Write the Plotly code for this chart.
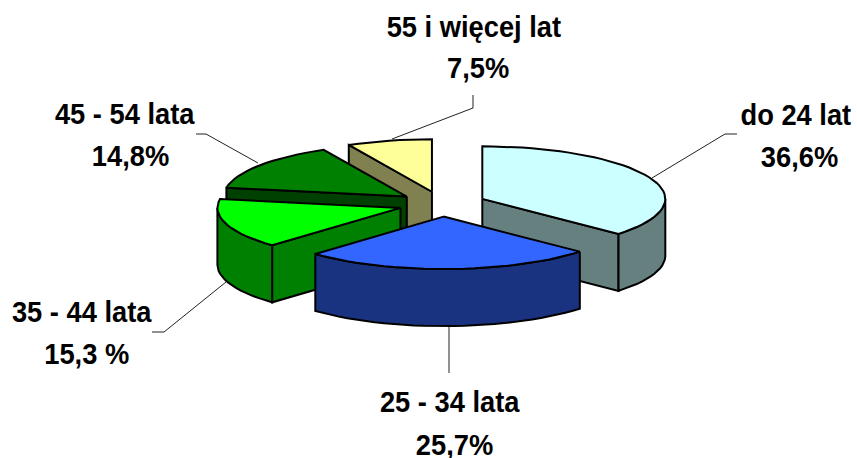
import numpy as np
import plotly.graph_objects as go

categories = ["do 24 lat", "25 - 34 lata", "35 - 44 lata", "45 - 54 lata", "55 i więcej lat"]
values = [36.6, 25.7, 15.3, 14.8, 7.5]
value_labels = ["36,6%", "25,7%", "15,3 %", "14,8%", "7,5%"]
top_colors = ["#CCFFFF", "#3366FF", "#00FF00", "#008000", "#FFFF99"]
side_colors = ["#668080", "#1A3380", "#008000", "#004000", "#808050"]
draw_order = [4, 3, 2, 0, 1]
name_xy = [(795.5, 114), (450, 401), (81.5, 311), (125, 113.5), (474, 26)]
value_xy = [(799, 156), (454, 444), (86.5, 353), (130, 155), (478, 67)]
leaders = [
    [(652, 178), (725, 134), (737, 134)],
    [(449, 327), (449, 373)],
    [(226, 282), (164, 332), (152, 332)],
    [(258, 163), (206, 134), (196, 134)],
    [(392, 139), (473, 108), (473, 95)],
]

CX, CY, RX, RY, DEPTH, PULL = 442.2, 204.0, 183.0, 52.5, 57.0, 0.24

total = sum(values)
edges = np.concatenate([[0.0], np.cumsum(values)]) / total * 2 * np.pi


def arc(i):
    n = max(int(values[i] * 1.2), 6)
    t = np.linspace(edges[i], edges[i + 1], n)
    extra = [a for a in (np.pi / 2, 3 * np.pi / 2) if edges[i] < a < edges[i + 1]]
    return np.union1d(t, extra)


def apex(i):
    mid = (edges[i] + edges[i + 1]) / 2
    return CX + PULL * RX * np.sin(mid), CY - PULL * RY * np.cos(mid)


def poly(xs, ys, color):
    return go.Scatter(
        x=list(xs) + [xs[0]], y=list(ys) + [ys[0]], mode="lines", fill="toself",
        fillcolor=color, line=dict(color="black", width=2),
        hoverinfo="skip", showlegend=False,
    )


fig = go.Figure()
for i in draw_order:
    ax, ay = apex(i)
    t = arc(i)
    px = ax + RX * np.sin(t)
    py = ay - RY * np.cos(t)
    # radial walls that face the viewer
    walls = []
    if np.sin(t[0]) < -1e-6:
        walls.append(t[0])
    if np.sin(t[-1]) > 1e-6:
        walls.append(t[-1])
    for e in walls:
        ex, ey = ax + RX * np.sin(e), ay - RY * np.cos(e)
        fig.add_trace(poly([ax, ex, ex, ax], [ay, ey, ey + DEPTH, ay + DEPTH], side_colors[i]))
    # outer wall, front-facing part only
    mask = np.cos(t) < 1e-6
    if mask.any():
        wx, wy = px[mask], py[mask]
        fig.add_trace(poly(list(wx) + list(wx[::-1]),
                           list(wy) + list((wy + DEPTH)[::-1]), side_colors[i]))
    fig.add_trace(poly([ax] + list(px), [ay] + list(py), top_colors[i]))

for pts in leaders:
    fig.add_trace(go.Scatter(x=[p[0] for p in pts], y=[p[1] for p in pts], mode="lines",
                             line=dict(color="#222222", width=1), hoverinfo="skip",
                             showlegend=False))

for text, (lx, ly) in list(zip(categories, name_xy)) + list(zip(value_labels, value_xy)):
    fig.add_annotation(x=lx, y=ly, text=text, showarrow=False, align="center",
                       font=dict(family="Liberation Sans", size=30, color="black",
                                 weight="bold"))

fig.update_layout(
    width=857, height=458, margin=dict(l=0, r=0, t=0, b=0),
    paper_bgcolor="white", plot_bgcolor="white", showlegend=False,
    xaxis=dict(range=[0, 857], visible=False, fixedrange=True),
    yaxis=dict(range=[458, 0], visible=False, fixedrange=True),
)
post = """
document.body.style.margin='0';
document.documentElement.style.overflow='hidden';
document.querySelectorAll('.annotation-text').forEach(function(t){
  var w=t.getComputedTextLength();
  t.setAttribute('lengthAdjust','spacingAndGlyphs');
  t.setAttribute('textLength', w*0.91);
});
"""
fig.write_html("out.html", config={"displayModeBar": False}, post_script=post)
